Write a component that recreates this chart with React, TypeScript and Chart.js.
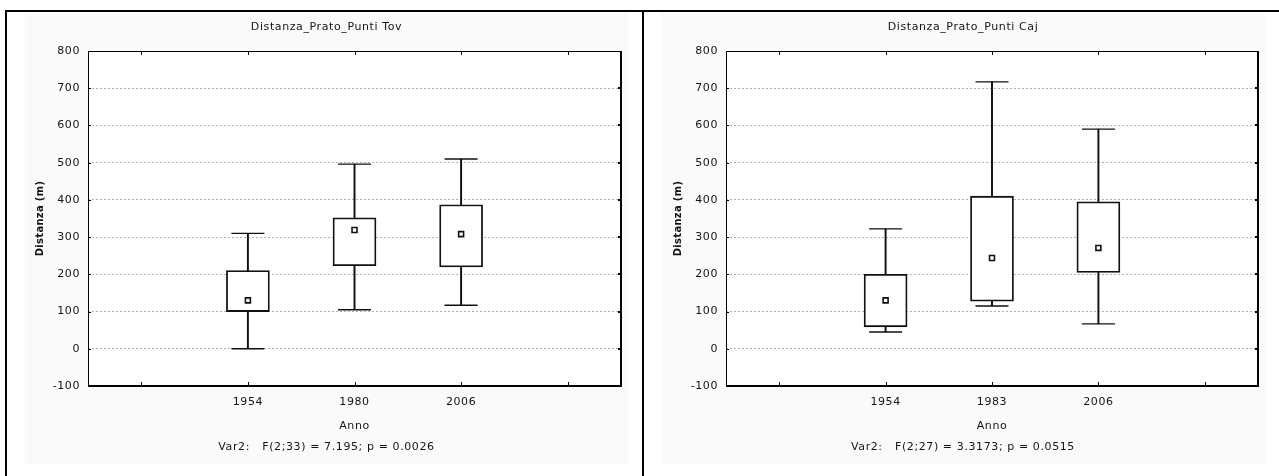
import React, { useEffect, useRef } from 'react';
import { Chart, registerables } from 'chart.js';

Chart.register(...registerables);

// ---------- data ----------
const tovTitle = 'Distanza_Prato_Punti Tov';
const tovYears = ['1954', '1980', '2006'];
const tovMin = [0, 105, 117];
const tovQ1 = [100, 223, 220];
const tovQ3 = [210, 352, 387];
const tovMax = [310, 496, 510];
const tovMean = [130, 319, 308];
const tovStats = 'Var2:   F(2;33) = 7.195; p = 0.0026';

const cajTitle = 'Distanza_Prato_Punti Caj';
const cajYears = ['1954', '1983', '2006'];
const cajMin = [45, 115, 67];
const cajQ1 = [59, 128, 205];
const cajQ3 = [200, 410, 395];
const cajMax = [322, 717, 590];
const cajMean = [130, 244, 271];
const cajStats = 'Var2:   F(2;27) = 3.3173; p = 0.0515';

const yAxisTitle = 'Distanza (m)';
const xAxisTitle = 'Anno';
const Y_MIN = -100;
const Y_MAX = 800;
const Y_STEP = 100;

const FONT = 'DejaVu Sans';
const INK = '#141414';

type PanelProps = {
  title: string;
  years: string[];
  min: number[];
  q1: number[];
  q3: number[];
  max: number[];
  mean: number[];
  stats: string;
  x: number;
  width: number;
  plotLeft: number;
};

const pad = <T,>(arr: T[]): (T | null)[] => [null, ...arr, null];

function Panel(p: PanelProps) {
  const ref = useRef<HTMLCanvasElement | null>(null);

  useEffect(() => {
    const canvas = ref.current;
    if (!canvas) return;
    const labels = ['', ...p.years, ''];

    const decor = {
      id: 'decor',
      beforeDraw(chart: any) {
        const { ctx, chartArea } = chart;
        ctx.save();
        ctx.fillStyle = '#fafafa';
        ctx.fillRect(0, 0, chart.width, chart.height);
        ctx.fillStyle = '#ffffff';
        ctx.fillRect(chartArea.left, chartArea.top, chartArea.right - chartArea.left, chartArea.bottom - chartArea.top);
        ctx.restore();
        ctx.letterSpacing = '0.6px';
      },
      afterDraw(chart: any) {
        const { ctx, chartArea } = chart;
        const { left, right, top, bottom } = chartArea;
        const xs = chart.scales.x;
        const ys = chart.scales.y;
        ctx.save();
        ctx.fillStyle = '#000';
        // frame
        ctx.fillRect(left, top, right - left, 1);
        ctx.fillRect(left, top, 1, bottom - top);
        ctx.fillRect(right - 1, top, 2, bottom - top + 1);
        ctx.fillRect(left, bottom - 1, right - left + 1, 2);
        // inner ticks on x
        for (let i = 0; i < labels.length; i++) {
          const px = Math.round(xs.getPixelForValue(i));
          ctx.fillRect(px, top, 1, 4);
          ctx.fillRect(px, bottom - 4, 1, 3);
        }
        // inner ticks on y
        for (let v = Y_MIN + Y_STEP; v < Y_MAX; v += Y_STEP) {
          const py = Math.round(ys.getPixelForValue(v));
          ctx.fillRect(right - 3, py - 1, 2, 2);
          ctx.fillRect(left + 1, py, 2, 1);
        }
        // texts
        ctx.fillStyle = INK;
        ctx.textAlign = 'center';
        ctx.textBaseline = 'middle';
        ctx.letterSpacing = '0.6px';
        ctx.font = `11px "${FONT}"`;
        ctx.fillText(p.title, chart.width / 2, 14);
        ctx.fillText(xAxisTitle, (left + right) / 2, 413);
        ctx.fillText(p.stats, chart.width / 2, 434);
        ctx.save();
        ctx.letterSpacing = '0.3px';
        ctx.translate(left - 48, (top + bottom) / 2);
        ctx.rotate(-Math.PI / 2);
        ctx.font = `bold 10px "${FONT}"`;
        ctx.fillText(yAxisTitle, 0, 0);
        ctx.restore();
        ctx.restore();
      },
    };

    const chart = new Chart(canvas, {
      type: 'bar',
      data: {
        labels,
        datasets: [
          {
            type: 'bar',
            label: 'whisker',
            data: pad(p.years.map((_, i) => [p.min[i], p.max[i]])) as any,
            backgroundColor: '#111',
            borderWidth: 0,
            barThickness: 1.3,
            grouped: false,
            order: 3,
          } as any,
          {
            type: 'bar',
            label: 'box',
            data: pad(p.years.map((_, i) => [p.q1[i], p.q3[i]])) as any,
            backgroundColor: '#ffffff',
            borderColor: '#111',
            borderWidth: 1.8,
            borderSkipped: false,
            barThickness: 43,
            grouped: false,
            order: 2,
          } as any,
          {
            type: 'line',
            label: 'max',
            data: pad(p.max) as any,
            showLine: false,
            pointStyle: 'line',
            pointRadius: 16.5,
            pointBorderWidth: 1.4,
            pointBorderColor: '#111',
            order: 1,
          } as any,
          {
            type: 'line',
            label: 'min',
            data: pad(p.min) as any,
            showLine: false,
            pointStyle: 'line',
            pointRadius: 16.5,
            pointBorderWidth: 1.4,
            pointBorderColor: '#111',
            order: 1,
          } as any,
          {
            type: 'line',
            label: 'mean',
            data: pad(p.mean) as any,
            showLine: false,
            pointStyle: 'rect',
            pointRadius: 3.5,
            pointBorderWidth: 1.6,
            pointBackgroundColor: '#ffffff',
            pointBorderColor: '#111',
            order: 0,
          } as any,
        ],
      },
      options: {
        animation: false,
        responsive: false,
        events: [],
        layout: { autoPadding: false, padding: { left: 0, right: 7, top: 38, bottom: 0 } },
        plugins: {
          legend: { display: false },
          tooltip: { enabled: false },
          title: { display: false },
        },
        scales: {
          x: {
            type: 'category',
            offset: true,
            grid: { display: false, drawTicks: false },
            border: { display: false },
            ticks: {
              autoSkip: false,
              maxRotation: 0,
              padding: 10,
              color: INK,
              font: { family: FONT, size: 11 },
            },
            afterFit: (s: any) => {
              s.height = 78;
              s.paddingLeft = 0;
              s.paddingRight = 0;
            },
          },
          y: {
            type: 'linear',
            min: Y_MIN,
            max: Y_MAX,
            ticks: {
              stepSize: Y_STEP,
              padding: 8,
              color: INK,
              font: { family: FONT, size: 11 },
            },
            grid: {
              drawTicks: false,
              lineWidth: 1,
              color: (c: any) =>
                c.tick && (c.tick.value === Y_MIN || c.tick.value === Y_MAX) ? 'rgba(0,0,0,0)' : '#b0b0b0',
              borderDash: [2, 2],
            } as any,
            border: { display: false, dash: [2, 2] },
            afterFit: (s: any) => {
              s.width = p.plotLeft;
            },
          },
        },
      } as any,
      plugins: [decor],
    });

    return () => chart.destroy();
  }, []);

  return (
    <canvas
      ref={ref}
      width={p.width}
      height={451}
      style={{ position: 'absolute', left: p.x, top: 13, width: p.width, height: 451 }}
    />
  );
}

export default function App() {
  return (
    <div style={{ position: 'absolute', left: 0, top: 0, width: 1279, height: 476, background: '#ffffff', overflow: 'hidden' }}>
      <div style={{ position: 'absolute', left: 5, top: 10, width: 1274, height: 2, background: '#000' }} />
      <div style={{ position: 'absolute', left: 5, top: 10, width: 2, height: 466, background: '#000' }} />
      <div style={{ position: 'absolute', left: 642, top: 10, width: 2, height: 466, background: '#000' }} />
      <Panel
        title={tovTitle}
        years={tovYears}
        min={tovMin}
        q1={tovQ1}
        q3={tovQ3}
        max={tovMax}
        mean={tovMean}
        stats={tovStats}
        x={25}
        width={603}
        plotLeft={63}
      />
      <Panel
        title={cajTitle}
        years={cajYears}
        min={cajMin}
        q1={cajQ1}
        q3={cajQ3}
        max={cajMax}
        mean={cajMean}
        stats={cajStats}
        x={661}
        width={604}
        plotLeft={65}
      />
    </div>
  );
}
